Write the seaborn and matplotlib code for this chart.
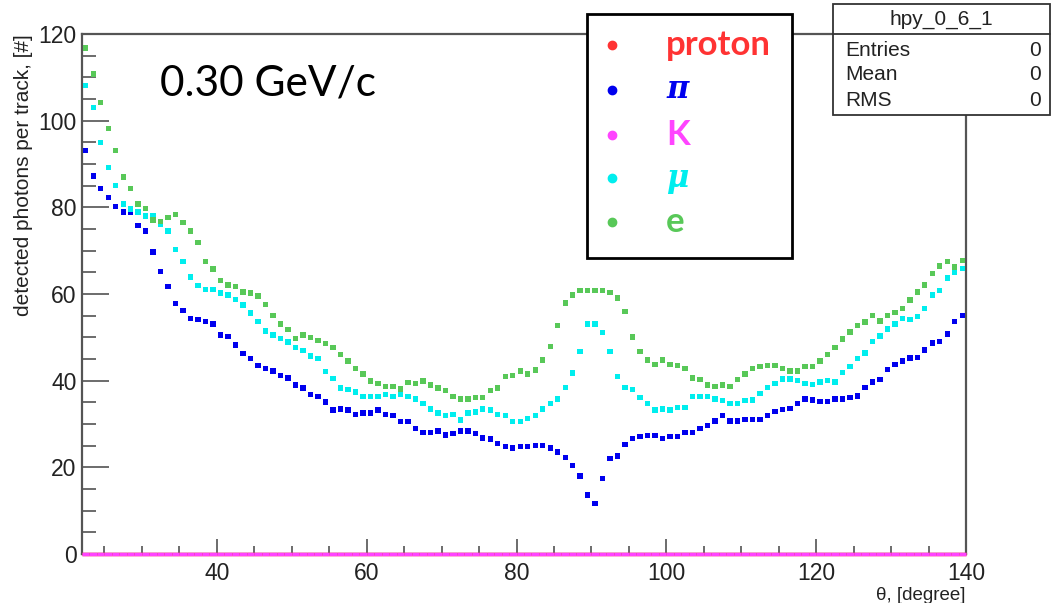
import numpy as np
import pandas as pd
import matplotlib
matplotlib.use('Agg')
import matplotlib.pyplot as plt
from matplotlib.patches import Rectangle
from matplotlib.lines import Line2D
import seaborn as sns

# bin centres of the theta histogram, 1 degree bins from 22 to 140
theta = np.arange(22.5, 140.0, 1.0)

pion = [93.1, 87.2, 84.4, 82.2, 80.2, 78.9, 78.9, 75.8, 74.5, 69.7, 65.2, 61.7, 57.8, 56.2, 54.4,
        54.1, 53.7, 53.1, 50.5, 50.2, 48.2, 46.3, 45.1, 43.5, 42.8, 42.2, 41.2, 40.6, 39.0,
        38.3, 36.8, 36.4, 35.1, 33.2, 33.5, 33.2, 32.2, 32.5, 32.5, 33.2, 32.2, 31.9, 30.6, 30.6,
        29.0, 28.1, 28.1, 28.4, 27.5, 27.8, 28.4, 28.4, 27.8, 26.8, 26.5, 25.5, 24.8, 24.5, 24.8,
        24.8, 25.1, 25.1, 24.5, 23.5, 22.3, 20.4, 18.0, 13.6, 11.7, 17.4, 22.0, 22.6, 25.2, 26.7,
        27.1, 27.4, 27.4, 26.7, 27.1, 27.1, 28.0, 28.0, 29.0, 29.7, 30.7, 31.9, 30.7, 30.7, 31.0,
        31.0, 31.0, 32.0, 32.9, 33.3, 33.6, 34.8, 35.8, 35.5, 35.2, 35.2, 35.8, 35.8, 36.1, 36.5,
        38.4, 39.7, 40.3, 42.6, 43.8, 44.5, 45.2, 45.4, 47.1, 48.7, 49.0, 50.8, 53.7, 55.1]

muon = [108.1, 103.0, 94.9, 89.2, 85.0, 80.8, 79.6, 78.9, 78.0, 78.0, 76.0, 74.5, 70.3, 67.5, 63.9,
        62.0, 61.1, 61.1, 60.2, 59.8, 58.8, 57.5, 55.6, 53.7, 51.5, 50.5, 49.8, 48.9, 47.6,
        47.0, 45.7, 45.1, 42.1, 40.5, 38.3, 38.0, 37.4, 36.4, 36.4, 36.4, 36.8, 36.4, 36.8, 36.4,
        35.8, 34.8, 33.5, 32.5, 31.9, 32.2, 30.9, 32.5, 32.8, 33.5, 33.2, 32.2, 31.9, 30.6, 30.6,
        31.2, 32.0, 33.5, 34.8, 35.8, 38.4, 41.8, 46.7, 53.1, 53.1, 51.1, 46.7, 40.9, 38.4, 38.0,
        36.1, 34.8, 33.2, 33.5, 33.2, 33.8, 33.8, 36.4, 36.4, 36.4, 35.8, 35.4, 34.8, 34.8, 35.4,
        35.5, 37.1, 38.4, 39.4, 40.4, 40.4, 40.0, 39.4, 39.1, 39.7, 40.0, 39.7, 41.9, 43.2, 45.1,
        46.4, 49.0, 50.3, 51.9, 53.1, 54.4, 54.1, 54.8, 56.7, 59.8, 60.8, 63.7, 64.9, 65.9]

electron = [116.8, 110.8, 104.2, 98.2, 93.1, 87.0, 84.4, 80.8, 79.7, 77.1, 76.8, 77.7, 78.4, 76.5, 74.5,
            71.9, 67.5, 65.8, 63.1, 62.1, 61.7, 60.5, 60.2, 59.5, 57.6, 55.0, 53.1, 51.8, 49.8,
            50.5, 49.9, 49.2, 48.6, 47.6, 46.0, 44.5, 42.8, 41.5, 39.9, 39.3, 38.7, 38.7, 38.1, 39.6,
            39.3, 39.9, 39.0, 38.3, 37.7, 36.4, 35.8, 35.8, 36.1, 36.1, 37.7, 38.3, 40.9, 41.2, 42.2,
            41.5, 42.5, 44.8, 47.9, 52.8, 57.9, 59.8, 60.8, 60.8, 60.8, 60.8, 60.4, 59.1, 55.9, 50.1,
            46.7, 44.8, 43.8, 44.8, 43.8, 43.5, 42.8, 40.6, 40.2, 39.0, 38.6, 39.0, 38.6, 40.2, 41.5,
            42.8, 43.2, 43.5, 43.5, 42.8, 42.2, 42.2, 43.2, 43.2, 44.5, 46.1, 47.7, 49.6, 51.2, 52.8,
            53.5, 55.1, 53.8, 55.1, 55.7, 56.7, 58.6, 60.5, 62.1, 64.7, 66.5, 67.5, 66.2, 67.8]

# protons and kaons give no photons at this momentum
proton = np.zeros(len(theta))
kaon = np.zeros(len(theta))

labels = ['proton', 'π', 'K', 'μ', 'e']
colors = {'proton': '#ff3333', 'π': '#0000ee', 'K': '#ff44ff', 'μ': '#00eeee', 'e': '#58c858'}

df = pd.concat([
    pd.DataFrame({'theta': theta, 'photons': pion, 'particle': 'π'}),
    pd.DataFrame({'theta': theta, 'photons': muon, 'particle': 'μ'}),
    pd.DataFrame({'theta': theta, 'photons': electron, 'particle': 'e'}),
])

sns.set_style('white')
plt.rcParams['font.family'] = ['Liberation Sans', 'DejaVu Sans']

W, H = 1053, 603
fig = plt.figure(figsize=(W / 100, H / 100), dpi=100)
ax = fig.add_axes([82 / W, 1 - 554 / H, (966 - 82) / W, (554 - 34) / H])

sns.scatterplot(df, x='theta', y='photons', hue='particle', palette=colors,
                marker='s', s=15, linewidth=0, legend=False, ax=ax, zorder=3)
ax.errorbar(theta, proton, xerr=0.5, fmt='none', ecolor=colors['proton'], lw=2.5, clip_on=False, zorder=4)
ax.errorbar(theta, kaon, xerr=0.5, fmt='none', ecolor=colors['K'], lw=2.5, clip_on=False, zorder=5)

ax.set_xlim(22, 140)
ax.set_ylim(0, 120)
ax.set_xticks([40, 60, 80, 100, 120, 140])
ax.set_xticks(np.arange(25, 140, 5), minor=True)
ax.set_yticks(np.arange(0, 121, 20))
ax.set_yticks(np.arange(0, 121, 5), minor=True)
ax.tick_params(axis='both', which='both', direction='in', color='#444444', width=1.1,
               labelsize=16.5, labelcolor='#222222', left=True, bottom=True)
ax.tick_params(axis='y', which='major', length=19.5, pad=4)
ax.tick_params(axis='y', which='minor', length=10)
ax.tick_params(axis='x', which='major', length=11, pad=6)
ax.tick_params(axis='x', which='minor', length=5.5)
for sp in ax.spines.values():
    sp.set_color('#555555')
    sp.set_linewidth(1.6)

ax.set_xlabel('θ, [degree]', loc='right', fontsize=13.5, color='#222222', labelpad=1)
ax.set_ylabel('detected photons per track, [#]', loc='top', fontsize=15, color='#222222', labelpad=4)

fig.text(160 / W, 1 - 96 / H, '0.30 GeV/c', fontsize=30.5, family='Lato', va='baseline', color='black')

# legend box
fig.add_artist(Rectangle((587 / W, 1 - 258 / H), 205 / W, 244 / H, transform=fig.transFigure,
                         facecolor='white', edgecolor='black', lw=2, zorder=10))
rows = [45, 90, 135, 178, 222]
for lab, yy in zip(labels, rows):
    fig.add_artist(Line2D([612 / W], [1 - yy / H], transform=fig.transFigure, marker='o',
                          ms=6, color=colors[lab], ls='', zorder=11))
    if lab in ('π', 'μ'):
        fig.text(666 / W, 1 - yy / H, lab, fontsize=22, family='DejaVu Serif', weight='bold',
                 style='italic', color=colors[lab], va='center', zorder=11)
    else:
        fig.text(666 / W, 1 - yy / H, lab, fontsize=25, family='Lato', weight='bold',
                 color=colors[lab], va='center', zorder=11)

# stats box
fig.add_artist(Rectangle((833 / W, 1 - 115 / H), 217 / W, 111 / H, transform=fig.transFigure,
                         facecolor='white', edgecolor='#333333', lw=1.3, zorder=10))
fig.add_artist(Line2D([833 / W, 1050 / W], [1 - 34 / H, 1 - 34 / H], transform=fig.transFigure,
                      color='#333333', lw=1.3, zorder=11))
fig.text(941 / W, 1 - 19 / H, 'hpy_0_6_1', fontsize=15, ha='center', va='center', color='#222222', zorder=11)
for name, yy in zip(['Entries', 'Mean', 'RMS'], [50, 75, 100]):
    fig.text(845 / W, 1 - yy / H, name, fontsize=15, va='center', color='#222222', zorder=11)
    fig.text(1041 / W, 1 - yy / H, '0', fontsize=15, va='center', ha='right', color='#222222', zorder=11)

fig.savefig('out.png', dpi=100, facecolor='white')
